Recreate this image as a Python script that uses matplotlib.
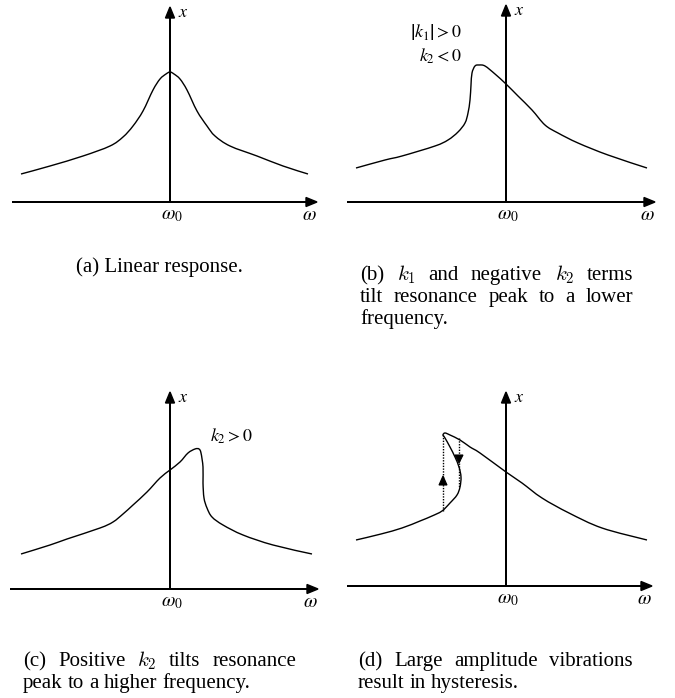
import numpy as np
import matplotlib.pyplot as plt
from matplotlib.path import Path
from matplotlib.patches import PathPatch

W, H = 675, 698
plt.rcParams['font.family'] = ['Liberation Serif', 'DejaVu Serif']

# Response curves, (omega offset from omega_0, amplitude), in pixel-like units
curve_a_w = [-149, -120, -87, -60, -47, -37, -27, -17, -10, -4, 0, 4, 10, 17, 27, 37, 45, 60, 87, 113, 138]
curve_a_x = [28, 36, 46, 56, 65, 76, 91, 112, 123, 128, 130, 128, 123, 112, 91, 76, 66, 56, 46, 36, 28]

curve_b_w = [-150, -121, -104, -71, -58, -48, -41, -38, -36, -35, -34, -31, -27, -21, -11, 0, 12, 26, 39, 52, 72, 102, 141]
curve_b_x = [34, 42, 46, 56, 62, 70, 79, 89, 102, 117, 129, 136, 137, 136, 128, 118, 106, 92, 77, 69, 59, 47, 34]

curve_c_w = [-149, -120, -103, -70, -57, -47, -37, -23, -10, 0, 10, 18, 25, 29, 31, 33, 33, 34, 37, 42, 53, 73, 103, 142]
curve_c_x = [35, 44, 50, 61, 67, 75, 84, 97, 111, 119, 127, 136, 140, 140, 136, 122, 106, 91, 81, 72, 64, 54, 44, 35]

curve_d_w = [-150, -125, -104, -86, -74, -64, -56, -49, -46, -45, -47, -51, -56, -61, -63, -61, -56, -46, -36, -26, 0, 16, 36, 63, 96, 141]
curve_d_x = [46, 52, 58, 65, 70, 75, 83, 91, 99, 109, 119, 129, 139, 148, 151, 153, 151, 146, 139, 133, 114, 103, 88, 73, 58, 46]

# hysteresis jumps: omega, start, end, and where the arrowhead sits (base, tip)
jump_up = (-63, 75, 151, 101, 110)
jump_down = (-47, 148, 99, 131, 123)

captions = {
    'a': ["(a) Linear response."],
    'b': ["(b) $k_1$ and negative $k_2$ terms", "tilt resonance peak to a lower", "frequency."],
    'c': ["(c) Positive $k_2$ tilts resonance", "peak to a higher frequency."],
    'd': ["(d) Large amplitude vibrations", "result in hysteresis."],
}

fig = plt.figure(figsize=(W / 100, H / 100), dpi=100)


def smooth_curve(ax, xs, ys):
    # Catmull-Rom through the points, drawn as cubic Bezier segments
    p = np.column_stack([xs, ys]).astype(float)
    ext = np.vstack([p[0], p, p[-1]])
    verts = [p[0]]
    codes = [Path.MOVETO]
    for i in range(1, len(ext) - 2):
        c1 = ext[i] + (ext[i + 1] - ext[i - 1]) / 6
        c2 = ext[i + 1] - (ext[i + 2] - ext[i]) / 6
        verts += [c1, c2, ext[i + 1]]
        codes += [Path.CURVE4] * 3
    ax.add_patch(PathPatch(Path(verts, codes), fc='none', ec='k', lw=1.0))


def make_panel(ox, oy, x_left, x_right, y_top):
    ax = fig.add_axes([(ox - 170) / W, (H - (oy + 30)) / H, 335 / W, 240 / H])
    ax.set_xlim(-170, 165)
    ax.set_ylim(-30, 210)
    ax.axis('off')
    ax.arrow(x_left, 0, x_right - x_left, 0, width=0, head_width=9, head_length=11,
             length_includes_head=True, fc='k', ec='k', lw=1.0)
    ax.arrow(0, 0, 0, y_top, width=0, head_width=9, head_length=11,
             length_includes_head=True, fc='k', ec='k', lw=1.0)
    ax.text(8, y_top - 10, r'$x$', fontsize=13, math_fontfamily='stix', ha='left', va='baseline')
    ax.text(2, -5, r'$\omega_{\mathit{0}}$', fontsize=14, math_fontfamily='stix', ha='center', va='top')
    ax.text(x_right - 8, -5, r'$\omega$', fontsize=14, math_fontfamily='stix', ha='center', va='top')
    return ax


ax_a = make_panel(170, 202, -158, 147, 195)
smooth_curve(ax_a, curve_a_w, curve_a_x)

ax_b = make_panel(506, 202, -159, 149, 197)
smooth_curve(ax_b, curve_b_w, curve_b_x)
ax_b.text(-44, 164, r'$\left|k_{1}\right| > 0$', fontsize=13, math_fontfamily='stix', ha='right', va='baseline')
ax_b.text(-44, 140, r'$k_{2} < 0$', fontsize=13, math_fontfamily='stix', ha='right', va='baseline')

ax_c = make_panel(170, 589, -160, 148, 197)
smooth_curve(ax_c, curve_c_w, curve_c_x)
ax_c.text(40, 147, r'$k_{2} > 0$', fontsize=13, math_fontfamily='stix', ha='left', va='baseline')

ax_d = make_panel(506, 586, -159, 146, 194)
smooth_curve(ax_d, curve_d_w, curve_d_x)
for w, x0, x1, base, tip in (jump_up, jump_down):
    ax_d.plot([w, w], [x0, x1], color='k', lw=1.0, linestyle=(0, (1, 1)))
    ax_d.arrow(w, base, 0, tip - base, width=0, head_width=8, head_length=abs(tip - base),
               length_includes_head=True, fc='k', ec='k', lw=0.8)

# captions, justified inside their columns
tax = fig.add_axes([0, 0, 1, 1])
tax.set_xlim(0, W)
tax.set_ylim(H, 0)
tax.axis('off')
renderer = fig.canvas.get_renderer()
CAP_SIZE = 15


def caption(lines, left, right, y0, step=22, center=False):
    for i, line in enumerate(lines):
        y = y0 + i * step
        if center:
            tax.text((left + right) / 2, y, line, fontsize=CAP_SIZE, math_fontfamily='cm',
                     ha='center', va='baseline')
            continue
        words = line.split(' ')
        texts = [tax.text(left, y, wd, fontsize=CAP_SIZE, math_fontfamily='cm',
                          ha='left', va='baseline') for wd in words]
        widths = [t.get_window_extent(renderer).width for t in texts]
        last = i == len(lines) - 1
        if last or len(words) == 1:
            gap = CAP_SIZE * 0.25 * 100 / 72
        else:
            gap = (right - left - sum(widths)) / (len(words) - 1)
        x = left
        for t, wdt in zip(texts, widths):
            t.set_x(x)
            x += wdt + gap


caption(captions['a'], 23, 296, 272, center=True)
caption(captions['b'], 360, 633, 280)
caption(captions['c'], 23, 296, 666)
caption(captions['d'], 358, 633, 666)

fig.savefig('out.png', dpi=100)
